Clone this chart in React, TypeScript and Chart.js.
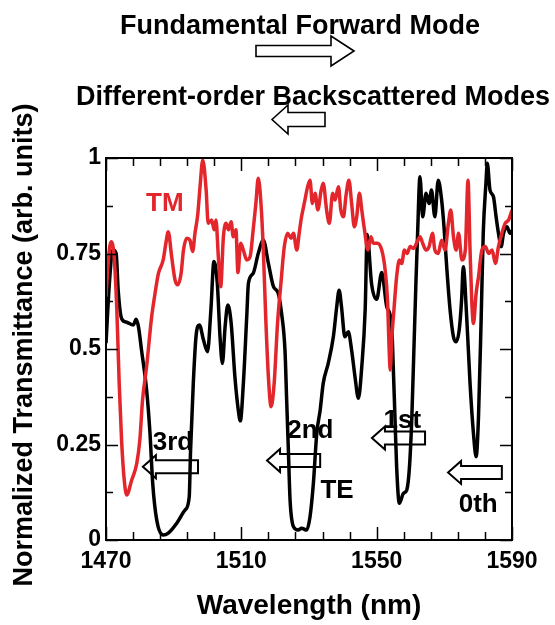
import { useEffect, useRef } from "react";
import { Chart, registerables } from "chart.js";

Chart.register(...registerables);

// ---- data ----
const teWavelength = [1470, 1471, 1472, 1473, 1473.6, 1474.6, 1476.1, 1478.1, 1478.9, 1479.6, 1480.5, 1482, 1483, 1483.8, 1485, 1486.9, 1488.4, 1490.9, 1493.4, 1494.6, 1495, 1495.8, 1496.6, 1497.6, 1498.8, 1500, 1501, 1501.9, 1502.9, 1503.7, 1504.4, 1505.2, 1506, 1507, 1508.1, 1509.1, 1509.7, 1510.6, 1511.6, 1512.1, 1513.5, 1515, 1516.5, 1518, 1519.5, 1520.9, 1521.9, 1522.9, 1523.4, 1523.9, 1524.4, 1525.4, 1526.8, 1527.8, 1529.3, 1530.3, 1531.3, 1532.3, 1533.3, 1534.2, 1535.7, 1537.2, 1538.2, 1538.9, 1539.6, 1540.6, 1541.6, 1542.6, 1543.6, 1544.6, 1545.6, 1546.6, 1547.2, 1548.5, 1550, 1551.5, 1553, 1554.4, 1554.9, 1555.4, 1555.9, 1556.7, 1557.9, 1558.9, 1559.7, 1560.4, 1561, 1561.6, 1562.1, 1562.8, 1563.6, 1564.6, 1565.5, 1566.2, 1567.2, 1568.2, 1569.2, 1569.9, 1570.7, 1571.7, 1572.7, 1573.5, 1574.4, 1575.1, 1575.6, 1576.6, 1577.6, 1578.6, 1579.4, 1580.1, 1580.9, 1581.5, 1582.3, 1582.7, 1583.5, 1584.5, 1585.3, 1586, 1586.8, 1587.5, 1588.5, 1589.4, 1590];
const teValues = [0.515, 0.672, 0.76, 0.75, 0.654, 0.58, 0.57, 0.563, 0.578, 0.558, 0.497, 0.393, 0.28, 0.149, 0.052, 0.013, 0.018, 0.044, 0.079, 0.113, 0.236, 0.41, 0.532, 0.563, 0.524, 0.493, 0.602, 0.729, 0.672, 0.532, 0.462, 0.558, 0.615, 0.567, 0.427, 0.34, 0.312, 0.41, 0.585, 0.672, 0.698, 0.75, 0.785, 0.724, 0.663, 0.646, 0.593, 0.497, 0.366, 0.236, 0.105, 0.035, 0.026, 0.031, 0.026, 0.061, 0.149, 0.28, 0.34, 0.41, 0.463, 0.532, 0.611, 0.654, 0.611, 0.532, 0.545, 0.497, 0.427, 0.371, 0.454, 0.602, 0.8, 0.67, 0.63, 0.7, 0.61, 0.567, 0.454, 0.323, 0.192, 0.096, 0.122, 0.131, 0.192, 0.323, 0.497, 0.672, 0.803, 0.951, 0.846, 0.908, 0.881, 0.916, 0.846, 0.942, 0.89, 0.82, 0.715, 0.602, 0.532, 0.519, 0.55, 0.628, 0.715, 0.585, 0.41, 0.28, 0.218, 0.323, 0.585, 0.803, 0.934, 0.986, 0.916, 0.899, 0.846, 0.803, 0.768, 0.803, 0.82, 0.803, 0.81];

const tmWavelength = [1470, 1470.7, 1471.5, 1472.4, 1473.2, 1473.9, 1474.6, 1475.3, 1476.1, 1477.6, 1479.1, 1480, 1480.8, 1482, 1483.5, 1484.5, 1485.5, 1486.9, 1487.7, 1488.4, 1489.4, 1490.4, 1491.2, 1492.2, 1492.9, 1493.9, 1494.8, 1495.6, 1496.3, 1497.1, 1497.8, 1498.6, 1499.6, 1500.2, 1501.2, 1502, 1502.5, 1503.2, 1503.9, 1504.7, 1505.5, 1506.2, 1507, 1507.6, 1508.4, 1509, 1509.8, 1510.6, 1511.6, 1512.6, 1513.5, 1514.3, 1515, 1515.8, 1516.5, 1517.2, 1518, 1518.8, 1519.7, 1520.7, 1521.7, 1522.7, 1523.7, 1524.7, 1525.4, 1526.4, 1527.1, 1527.8, 1528.6, 1529.6, 1530.3, 1531, 1531.8, 1532.6, 1533.6, 1534.2, 1535.2, 1536, 1537, 1537.7, 1538.7, 1539.4, 1540.2, 1540.9, 1541.8, 1542.6, 1543.4, 1544.1, 1544.9, 1545.6, 1546.4, 1547.4, 1548.3, 1549, 1550.2, 1551.5, 1552.5, 1553.2, 1553.7, 1554, 1554.5, 1555.1, 1555.9, 1556.7, 1557.4, 1558.2, 1559, 1559.9, 1560.8, 1561.8, 1562.8, 1563.6, 1564.6, 1565.5, 1566.5, 1567.2, 1568.2, 1569.2, 1570.2, 1571.2, 1571.9, 1572.7, 1573.5, 1574.2, 1575.2, 1576.2, 1577, 1577.6, 1578.1, 1578.6, 1579.4, 1580.1, 1581.1, 1582.1, 1583.1, 1584.1, 1585.1, 1586, 1587, 1588, 1589, 1590];
const tmValues = [0.637, 0.733, 0.781, 0.742, 0.602, 0.41, 0.262, 0.166, 0.118, 0.157, 0.201, 0.262, 0.366, 0.454, 0.585, 0.646, 0.698, 0.733, 0.777, 0.807, 0.742, 0.681, 0.668, 0.698, 0.759, 0.79, 0.785, 0.755, 0.803, 0.851, 0.925, 0.995, 0.916, 0.829, 0.838, 0.812, 0.838, 0.742, 0.663, 0.794, 0.829, 0.812, 0.833, 0.794, 0.812, 0.7, 0.777, 0.759, 0.733, 0.742, 0.812, 0.881, 0.947, 0.881, 0.759, 0.585, 0.427, 0.349, 0.41, 0.567, 0.672, 0.768, 0.803, 0.79, 0.803, 0.759, 0.803, 0.846, 0.881, 0.925, 0.942, 0.881, 0.908, 0.864, 0.916, 0.934, 0.864, 0.829, 0.908, 0.89, 0.925, 0.864, 0.846, 0.899, 0.942, 0.881, 0.82, 0.846, 0.908, 0.864, 0.812, 0.759, 0.794, 0.777, 0.777, 0.759, 0.707, 0.628, 0.497, 0.445, 0.532, 0.602, 0.689, 0.733, 0.724, 0.759, 0.75, 0.768, 0.763, 0.777, 0.794, 0.777, 0.759, 0.768, 0.803, 0.759, 0.75, 0.785, 0.759, 0.829, 0.864, 0.794, 0.759, 0.803, 0.733, 0.759, 0.942, 0.759, 0.628, 0.567, 0.646, 0.689, 0.759, 0.768, 0.75, 0.759, 0.724, 0.768, 0.803, 0.829, 0.838, 0.864];

const xMin = 1470;
const xMax = 1590;
const xLabelStep = 40;
const xMinorStep = 8;
const yMin = 0;
const yMax = 1;
const yLabelStep = 0.25;
const yMinorStep = 0.125;

const xTitle = "Wavelength (nm)";
const yTitle = "Normalized Transmittance (arb. units)";
const topTitle = "Fundamental Forward Mode";
const subTitle = "Different-order Backscattered Modes";

// annotation labels: text, wavelength, transmittance (baseline), colour
const noteTexts = ["TM", "3rd", "2nd", "TE", "1st", "0th"];
const noteWavelengths = [1487.4, 1489.8, 1530.4, 1538.3, 1557.6, 1580];
const noteValues = [0.861, 0.236, 0.267, 0.11, 0.293, 0.073];
const noteColors = ["#e3262b", "#000", "#000", "#000", "#000", "#000"];

// backward arrows: tip wavelength, tail wavelength, transmittance
const arrowTips = [1480.9, 1517.6, 1548.6, 1571.1];
const arrowTails = [1497.2, 1533.3, 1564.3, 1587.0];
const arrowValues = [0.192, 0.208, 0.267, 0.177];

const FONT = '"Liberation Sans", Arial, Helvetica, sans-serif';
const RED = "#e3262b";

function arrowPath(ctx: CanvasRenderingContext2D, tipX: number, tailX: number, y: number, bodyHalf: number, headHalf: number, headLen: number) {
  const dir = tailX > tipX ? 1 : -1;
  const hb = tipX + dir * headLen;
  ctx.beginPath();
  ctx.moveTo(tipX, y);
  ctx.lineTo(hb, y - headHalf);
  ctx.lineTo(hb, y - bodyHalf);
  ctx.lineTo(tailX, y - bodyHalf);
  ctx.lineTo(tailX, y + bodyHalf);
  ctx.lineTo(hb, y + bodyHalf);
  ctx.lineTo(hb, y + headHalf);
  ctx.closePath();
  ctx.stroke();
}

const decorPlugin = {
  id: "decor",
  beforeDatasetsDraw(chart: any) {
    const { ctx, scales } = chart;
    const xs = scales.x;
    const ys = scales.y;
    ctx.save();
    ctx.textAlign = "center";
    ctx.textBaseline = "alphabetic";
    noteTexts.forEach((t, i) => {
      ctx.font = `bold 26px ${FONT}`;
      ctx.fillStyle = noteColors[i];
      ctx.fillText(t, xs.getPixelForValue(noteWavelengths[i]), ys.getPixelForValue(noteValues[i]));
    });
    ctx.strokeStyle = "#000";
    ctx.lineWidth = 2;
    ctx.lineJoin = "miter";
    arrowTips.forEach((tip, i) => {
      arrowPath(ctx, xs.getPixelForValue(tip), xs.getPixelForValue(arrowTails[i]), ys.getPixelForValue(arrowValues[i]), 6.5, 11.5, 13);
    });
    ctx.restore();
  },
  afterDraw(chart: any) {
    const { ctx, chartArea, scales } = chart;
    const xs = scales.x;
    const ys = scales.y;
    const { left, right, top, bottom } = chartArea;
    ctx.save();
    ctx.strokeStyle = "#000";
    ctx.lineWidth = 2;
    ctx.strokeRect(left, top, right - left, bottom - top);
    ctx.lineWidth = 1.5;
    ctx.beginPath();
    for (let v = xMin; v <= xMax + 1e-6; v += xMinorStep) {
      const px = Math.round(xs.getPixelForValue(v)) + 0.5;
      const major = Math.abs((v - xMin) % xLabelStep) < 1e-6;
      const len = major ? 13 : 8;
      ctx.moveTo(px, bottom);
      ctx.lineTo(px, bottom - len);
      ctx.moveTo(px, top);
      ctx.lineTo(px, top + len);
    }
    for (let v = yMin; v <= yMax + 1e-6; v += yMinorStep) {
      const py = Math.round(ys.getPixelForValue(v)) + 0.5;
      const major = Math.abs((v / yLabelStep) - Math.round(v / yLabelStep)) < 1e-6;
      const len = major ? 12 : 7;
      ctx.moveTo(left, py);
      ctx.lineTo(left + len, py);
      ctx.moveTo(right, py);
      ctx.lineTo(right - len, py);
    }
    ctx.stroke();

    // y title
    ctx.fillStyle = "#000";
    ctx.font = `bold 27px ${FONT}`;
    ctx.textAlign = "center";
    ctx.textBaseline = "middle";
    ctx.translate(25, 345);
    ctx.rotate(-Math.PI / 2);
    ctx.fillText(yTitle, 0, 0);
    ctx.setTransform(1, 0, 0, 1, 0, 0);

    // top titles
    ctx.textBaseline = "alphabetic";
    ctx.font = `bold 27px ${FONT}`;
    ctx.fillText(topTitle, 300, 34);
    ctx.fillText(subTitle, 313, 105);
    ctx.lineWidth = 1.6;
    arrowPath(ctx, 354, 256, 51, 5.5, 15, 23);
    arrowPath(ctx, 272, 325, 119.5, 7, 14.5, 16);
    ctx.restore();
  },
};

export default function App() {
  const ref = useRef<HTMLCanvasElement>(null);
  useEffect(() => {
    if (!ref.current) return;
    const te = teWavelength.map((x, i) => ({ x, y: teValues[i] }));
    const tm = tmWavelength.map((x, i) => ({ x, y: tmValues[i] }));
    const chart = new Chart(ref.current, {
      type: "line",
      data: {
        datasets: [
          { label: "TM", data: tm, borderColor: RED, borderWidth: 3.5, pointRadius: 0, cubicInterpolationMode: "monotone", order: 0 },
          { label: "TE", data: te, borderColor: "#000", borderWidth: 3.5, pointRadius: 0, cubicInterpolationMode: "monotone", order: 1 },
        ],
      },
      options: {
        animation: false,
        responsive: false,
        events: [],
        layout: { padding: { left: 0, top: 158, right: 43, bottom: 0 } },
        plugins: { legend: { display: false }, tooltip: { enabled: false } },
        scales: {
          x: {
            type: "linear",
            min: xMin,
            max: xMax,
            grid: { display: false, drawTicks: false },
            border: { display: false },
            ticks: { stepSize: xLabelStep, padding: 8, color: "#000", font: { family: FONT, size: 23, weight: "bold" }, callback: (v: any) => String(v) },
            title: { display: true, text: xTitle, color: "#000", font: { family: FONT, size: 28, weight: "bold" }, padding: { top: 0, bottom: 2 } },
            afterFit: (s: any) => { s.height = 85; },
          },
          y: {
            type: "linear",
            min: yMin,
            max: yMax,
            grid: { display: false, drawTicks: false },
            border: { display: false },
            ticks: { stepSize: yLabelStep, padding: 5, color: "#000", font: { family: FONT, size: 23, weight: "bold" }, callback: (v: any) => String(v) },
            afterFit: (s: any) => { s.width = 106; },
          },
        },
      },
      plugins: [decorPlugin],
    } as any);
    return () => chart.destroy();
  }, []);
  return (
    <div style={{ position: "absolute", left: 0, top: 0, width: 555, height: 625, background: "#fff" }}>
      <canvas ref={ref} width={555} height={625} style={{ display: "block" }} />
    </div>
  );
}
